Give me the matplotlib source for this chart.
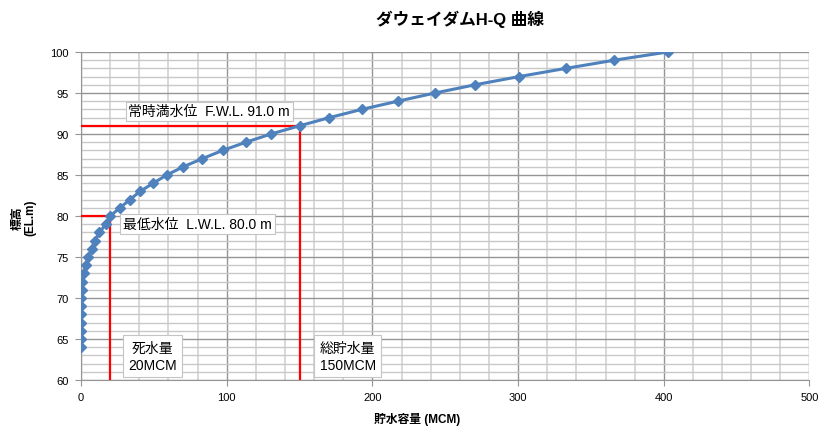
import matplotlib
matplotlib.use("Agg")
import matplotlib.pyplot as plt
from matplotlib.ticker import MultipleLocator

# H-Q curve data: elevation (EL.m) vs storage volume (MCM)
elevation = [64, 65, 66, 67, 68, 69, 70, 71, 72, 73, 74, 75, 76, 77, 78, 79, 80,
             81, 82, 83, 84, 85, 86, 87, 88, 89, 90, 91, 92, 93, 94, 95, 96, 97,
             98, 99, 100]
storage = [0.0, 0.0, 0.01, 0.02, 0.05, 0.1, 0.2, 0.5, 0.9, 2.1, 3.2, 5.0, 7.3,
           9.6, 12.6, 17.2, 20.0, 26.8, 33.6, 40.5, 49.6, 58.8, 70.2, 83.3, 97.3,
           113.2, 130.4, 150.0, 170.5, 192.7, 217.4, 243.0, 270.4, 300.6, 332.7,
           366.0, 402.7]

fwl_level, fwl_storage = 91.0, 150
lwl_level, lwl_storage = 80.0, 20

fwl_label = "常時満水位  F.W.L. 91.0 m"
lwl_label = "最低水位  L.W.L. 80.0 m"
dead_label = "死水量\n20MCM"
total_label = "総貯水量\n150MCM"

title = "ダウェイダムH-Q 曲線"
xlabel = "貯水容量 (MCM)"
ylabel = "標高\n(EL.m)"

fam = ["Liberation Sans", "Noto Sans CJK JP"]
plt.rcParams["font.family"] = fam

fig = plt.figure(figsize=(8.28, 4.27), dpi=100)
ax = fig.add_axes([81 / 828, 1 - 381 / 427, (809.5 - 81) / 828, (381 - 53) / 427])

ax.set_xlim(0, 500)
ax.set_ylim(60, 100)
ax.xaxis.set_major_locator(MultipleLocator(100))
ax.xaxis.set_minor_locator(MultipleLocator(20))
ax.yaxis.set_major_locator(MultipleLocator(5))
ax.yaxis.set_minor_locator(MultipleLocator(1))
ax.grid(which="minor", axis="x", color="#d6d6d6", lw=1.3)
ax.grid(which="minor", axis="y", color="#c8c8c8", lw=1.0)
ax.grid(which="major", color="#959595", lw=1.0)
ax.set_axisbelow(True)
for s in ("top", "right"):
    ax.spines[s].set_visible(False)
for s in ("left", "bottom"):
    ax.spines[s].set_color("#959595")
ax.tick_params(which="major", length=4, color="#959595", labelsize=8, pad=5)
ax.tick_params(which="minor", length=0)

# reference water levels
ax.plot([0, fwl_storage, fwl_storage], [fwl_level, fwl_level, 60],
        color="#ff0000", lw=1.6, zorder=3)
ax.plot([0, lwl_storage, lwl_storage], [lwl_level, lwl_level, 60],
        color="#ff0000", lw=1.6, zorder=3)

ax.plot(storage, elevation, color="#4f81bd", lw=2.2, marker="D",
        markersize=5.5, zorder=4)

box = dict(boxstyle="square,pad=0.2", fc="white", ec="#c4c4c4", lw=0.8)
box2 = dict(boxstyle="square,pad=0.4", fc="white", ec="#c4c4c4", lw=0.8)
ax.text(32.5, 92.75, fwl_label, fontsize=10, va="center", ha="left", bbox=box,
        family=fam, zorder=5)
ax.text(29, 79.0, lwl_label, fontsize=10, va="center", ha="left", bbox=box,
        family=fam, zorder=5)
ax.text(49, 62.9, dead_label, fontsize=10, va="center", ha="center",
        multialignment="center", bbox=box2, family=fam, zorder=5,
        linespacing=1.25)
ax.text(183, 62.9, total_label, fontsize=10, va="center", ha="center",
        multialignment="center", bbox=box2, family=fam, zorder=5,
        linespacing=1.25)

fig.text(0.556, 1 - 19 / 427, title, fontsize=12, fontweight="bold",
         ha="center", va="center", family=fam)
fig.text(417 / 828, 1 - 426 / 427, xlabel, fontsize=8.5, fontweight="bold",
         ha="center", va="bottom", family=fam)
fig.text(24 / 828, 1 - 218 / 427, ylabel, fontsize=8.5, fontweight="bold",
         ha="center", va="center", rotation=90, family=fam, linespacing=1.1)

fig.savefig("out.png", dpi=100)
